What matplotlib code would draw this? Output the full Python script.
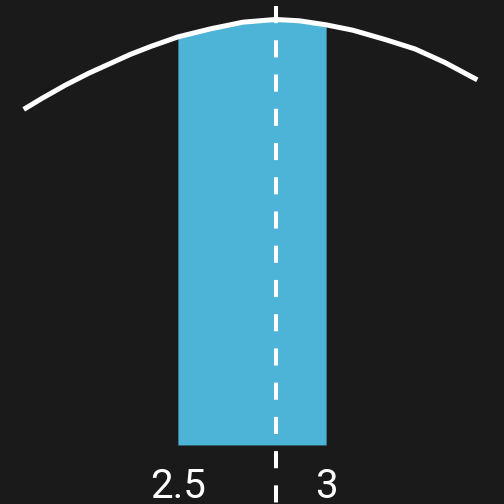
import numpy as np
import matplotlib
matplotlib.use('Agg')
import matplotlib.pyplot as plt

# Curva (x, densidad)
curva_x = np.array([1.98, 2.04, 2.12, 2.20, 2.29, 2.34, 2.41, 2.50, 2.61, 2.72,
                    2.83, 2.91, 3.00, 3.09, 3.20, 3.30, 3.40, 3.51])
curva_y = np.array([0.250, 0.258, 0.268, 0.277, 0.286, 0.291, 0.297, 0.304, 0.310, 0.315,
                    0.317, 0.316, 0.313, 0.309, 0.302, 0.295, 0.285, 0.272])

# Intervalo sombreado y media
intervalo = (2.5, 3.0)
media = 2.83

# Etiquetas del eje x
etiquetas_x = [2.5, 3]
textos_x = ['2.5', '3']

fondo = '#1a1a1a'
azul = '#4db3d7'

fig = plt.figure(figsize=(5.04, 5.04), dpi=100, facecolor=fondo)
ax = fig.add_axes([0, 0, 1, 1])
ax.set_facecolor(fondo)
ax.set_xlim(1.9, 3.6)
ax.set_ylim(-0.044, 0.3315)
ax.axis('off')

# Área sombreada entre 2.5 y 3
dentro = (curva_x >= intervalo[0]) & (curva_x <= intervalo[1])
ax.fill_between(curva_x[dentro], 0, curva_y[dentro], color=azul, linewidth=0, zorder=1)

# Curva
ax.plot(curva_x, curva_y, color='white', linewidth=3.6, solid_capstyle='butt',
        solid_joinstyle='round', zorder=3)

# Línea discontinua en la media
ax.plot([media, media], [0.3315, -0.044], color='white', linewidth=2.9,
        linestyle=(7.0, (4.25, 4.25)), dash_capstyle='butt', zorder=2)

# Etiquetas
for valor, texto in zip(etiquetas_x, textos_x):
    ax.text(valor, -0.0395, texto, color='white', fontsize=29, ha='center', va='baseline',
            family=['Roboto', 'DejaVu Sans'])

plt.savefig('out.png', dpi=100, facecolor=fondo)
